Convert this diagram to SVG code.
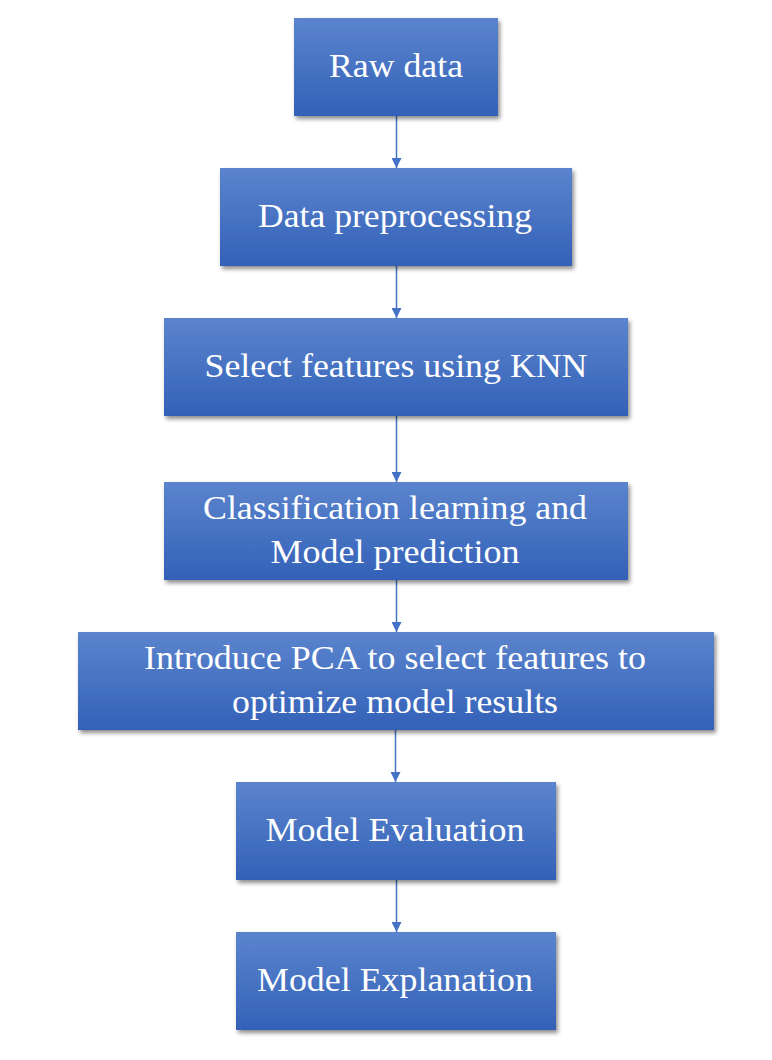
<svg xmlns="http://www.w3.org/2000/svg" width="772" height="1060" viewBox="0 0 772 1060">
<defs>
<linearGradient id="g" x1="0" y1="0" x2="0" y2="1">
<stop offset="0" stop-color="#5b84cd"/>
<stop offset="1" stop-color="#3361b8"/>
</linearGradient>
<filter id="sh" x="-10%" y="-10%" width="130%" height="140%">
<feDropShadow dx="2" dy="3" stdDeviation="2" flood-color="#000" flood-opacity="0.45"/>
</filter>
<marker id="ah" viewBox="0 0 10 10" refX="10" refY="5" markerWidth="10" markerHeight="10" markerUnits="userSpaceOnUse" orient="auto">
<path d="M0,0 L10,5 L0,10 Z" fill="#4472c4"/>
</marker>
</defs>
<style>
.box{fill:url(#g);filter:url(#sh);}
.t{font-family:"Liberation Serif","Times New Roman",serif;font-size:33px;fill:#fff;text-anchor:middle;}
.c{stroke:#4472c4;stroke-width:1.5;fill:none;marker-end:url(#ah);}
</style>
<rect width="772" height="1060" fill="#fff"/>
<g id="connectors">
<line class="c" x1="396.5" y1="116" x2="396.5" y2="168"/>
<line class="c" x1="396.5" y1="266" x2="396.5" y2="318"/>
<line class="c" x1="396.5" y1="416" x2="396.5" y2="482"/>
<line class="c" x1="396.5" y1="580" x2="396.5" y2="632"/>
<line class="c" x1="395.5" y1="730" x2="395.5" y2="782"/>
<line class="c" x1="396.5" y1="880" x2="396.5" y2="932"/>
</g>
<g id="n1">
<rect class="box" x="294" y="18" width="204" height="98"/>
<text class="t" x="396" y="77" textLength="134" lengthAdjust="spacingAndGlyphs">Raw data</text>
</g>
<g id="n2">
<rect class="box" x="220" y="168" width="352" height="98"/>
<text class="t" x="395" y="227" textLength="274" lengthAdjust="spacingAndGlyphs">Data preprocessing</text>
</g>
<g id="n3">
<rect class="box" x="164" y="318" width="464" height="98"/>
<text class="t" x="396" y="377" textLength="383" lengthAdjust="spacingAndGlyphs">Select features using KNN</text>
</g>
<g id="n4">
<rect class="box" x="164" y="482" width="464" height="98"/>
<text class="t" x="395" y="519" textLength="384" lengthAdjust="spacingAndGlyphs">Classification learning and</text>
<text class="t" x="395" y="563" textLength="249" lengthAdjust="spacingAndGlyphs">Model prediction</text>
</g>
<g id="n5">
<rect class="box" x="78" y="632" width="636" height="98"/>
<text class="t" x="395" y="669" textLength="502" lengthAdjust="spacingAndGlyphs">Introduce PCA to select features to</text>
<text class="t" x="395" y="713" textLength="326" lengthAdjust="spacingAndGlyphs">optimize model results</text>
</g>
<g id="n6">
<rect class="box" x="236" y="782" width="320" height="98"/>
<text class="t" x="395" y="841" textLength="259" lengthAdjust="spacingAndGlyphs">Model Evaluation</text>
</g>
<g id="n7">
<rect class="box" x="236" y="932" width="320" height="98"/>
<text class="t" x="395" y="991" textLength="276" lengthAdjust="spacingAndGlyphs">Model Explanation</text>
</g>
</svg>
